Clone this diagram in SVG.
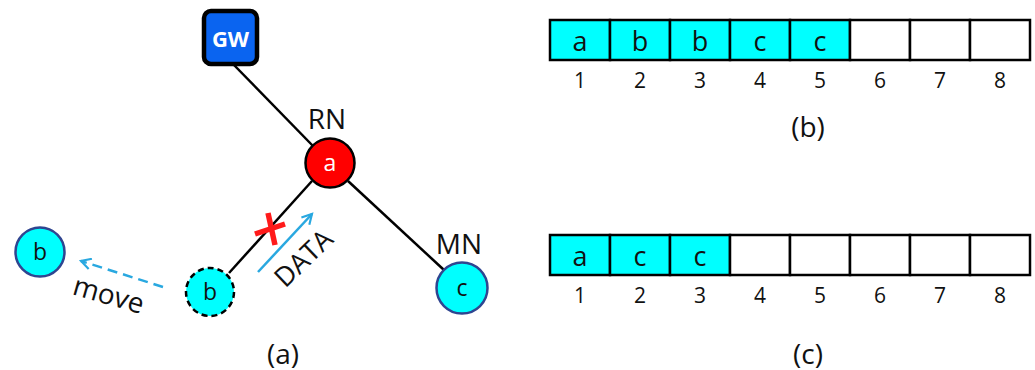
<svg xmlns="http://www.w3.org/2000/svg" width="1035" height="370" viewBox="0 0 1035 370">
  <defs>
    <style>
      text { font-family: "Open Sans", "Noto Sans", "DejaVu Sans", sans-serif; fill: #111; }
      .lbl { font-size: 28px; text-anchor: middle; }
      .cap { font-size: 28px; text-anchor: middle; }
      .num { font-size: 21px; text-anchor: middle; }
      .cell { stroke: #000; stroke-width: 2.5; }
      .full { fill: #00FFFF; }
      .empty { fill: #fff; }
      .ctext { font-size: 27px; text-anchor: middle; }
      .link { stroke: #000; stroke-width: 2.5; fill: none; }
      .ntext { font-size: 23px; text-anchor: middle; }
    </style>
    <marker id="openArrow" viewBox="0 0 12 12" refX="10" refY="6" markerWidth="13" markerHeight="13" markerUnits="userSpaceOnUse" orient="auto">
      <path d="M1,1 L10,6 L1,11" fill="none" stroke="#29A8E0" stroke-width="2"/>
    </marker>
  </defs>

  <!-- links -->
  <g id="connectors">
    <line class="link" x1="233" y1="64" x2="313" y2="146"/>
    <line class="link" x1="312" y1="181" x2="229" y2="273"/>
    <line class="link" x1="348" y1="181" x2="444" y2="270"/>
    <!-- data flow arrow -->
    <line x1="258" y1="272" x2="312" y2="214" stroke="#29A8E0" stroke-width="2.5" marker-end="url(#openArrow)"/>
    <!-- movement arrow -->
    <line x1="163" y1="287" x2="81" y2="261" stroke="#29A8E0" stroke-width="2.5" stroke-dasharray="10,6" marker-end="url(#openArrow)"/>
    <!-- broken link mark -->
    <g stroke="#FF1A1A" stroke-width="5.5" stroke-linecap="butt">
      <line x1="268" y1="213" x2="275" y2="245"/>
      <line x1="255" y1="234" x2="285" y2="224"/>
    </g>
    <text class="lbl" transform="translate(310,265) rotate(-44)" style="font-size:27px">DATA</text>
    <text class="lbl" transform="translate(106,304) rotate(16)">move</text>
  </g>

  <g id="gw">
    <rect x="204" y="11" width="53" height="53" rx="7" fill="#0A64F0" stroke="#000" stroke-width="4.5"/>
    <text x="230.5" y="47" text-anchor="middle" font-size="22" font-weight="bold" style="fill:#fff">GW</text>
  </g>

  <g id="rn">
    <circle cx="330" cy="163" r="24.5" fill="#FF0000" stroke="#000" stroke-width="2.5"/>
    <text class="ntext" x="330" y="171" style="fill:#fff">a</text>
    <text class="lbl" x="327" y="129">RN</text>
  </g>

  <g id="mn">
    <circle cx="462" cy="288" r="25.5" fill="#00FFFF" stroke="#2F4590" stroke-width="2.5"/>
    <text class="ntext" x="462" y="296">c</text>
    <text class="lbl" x="459" y="254">MN</text>
  </g>

  <g id="b-old">
    <circle cx="210" cy="292" r="24" fill="#00FFFF" stroke="#000" stroke-width="2.5" stroke-dasharray="6,4"/>
    <text class="ntext" x="210" y="300">b</text>
  </g>

  <g id="b-new">
    <circle cx="40" cy="252" r="24.5" fill="#00FFFF" stroke="#2F4590" stroke-width="2.5"/>
    <text class="ntext" x="40" y="260">b</text>
  </g>

  <text class="cap" x="283" y="364">(a)</text>

  <!-- buffer state (b) -->
  <g id="buffer-b">
    <rect class="cell full" x="550" y="20" width="60" height="40"/>
    <rect class="cell full" x="610" y="20" width="60" height="40"/>
    <rect class="cell full" x="670" y="20" width="60" height="40"/>
    <rect class="cell full" x="730" y="20" width="60" height="40"/>
    <rect class="cell full" x="790" y="20" width="60" height="40"/>
    <rect class="cell empty" x="850" y="20" width="60" height="40"/>
    <rect class="cell empty" x="910" y="20" width="60" height="40"/>
    <rect class="cell empty" x="970" y="20" width="60" height="40"/>
    <text class="ctext" x="580" y="51">a</text>
    <text class="ctext" x="640" y="51">b</text>
    <text class="ctext" x="700" y="51">b</text>
    <text class="ctext" x="760" y="51">c</text>
    <text class="ctext" x="820" y="51">c</text>
    <text class="num" x="580" y="88">1</text>
    <text class="num" x="640" y="88">2</text>
    <text class="num" x="700" y="88">3</text>
    <text class="num" x="760" y="88">4</text>
    <text class="num" x="820" y="88">5</text>
    <text class="num" x="880" y="88">6</text>
    <text class="num" x="940" y="88">7</text>
    <text class="num" x="1000" y="88">8</text>
    <text class="cap" x="808" y="137">(b)</text>
  </g>

  <!-- buffer state (c) -->
  <g id="buffer-c">
    <rect class="cell full" x="550" y="235" width="60" height="40"/>
    <rect class="cell full" x="610" y="235" width="60" height="40"/>
    <rect class="cell full" x="670" y="235" width="60" height="40"/>
    <rect class="cell empty" x="730" y="235" width="60" height="40"/>
    <rect class="cell empty" x="790" y="235" width="60" height="40"/>
    <rect class="cell empty" x="850" y="235" width="60" height="40"/>
    <rect class="cell empty" x="910" y="235" width="60" height="40"/>
    <rect class="cell empty" x="970" y="235" width="60" height="40"/>
    <text class="ctext" x="580" y="266">a</text>
    <text class="ctext" x="640" y="266">c</text>
    <text class="ctext" x="700" y="266">c</text>
    <text class="num" x="580" y="303">1</text>
    <text class="num" x="640" y="303">2</text>
    <text class="num" x="700" y="303">3</text>
    <text class="num" x="760" y="303">4</text>
    <text class="num" x="820" y="303">5</text>
    <text class="num" x="880" y="303">6</text>
    <text class="num" x="940" y="303">7</text>
    <text class="num" x="1000" y="303">8</text>
    <text class="cap" x="808" y="364">(c)</text>
  </g>
</svg>
